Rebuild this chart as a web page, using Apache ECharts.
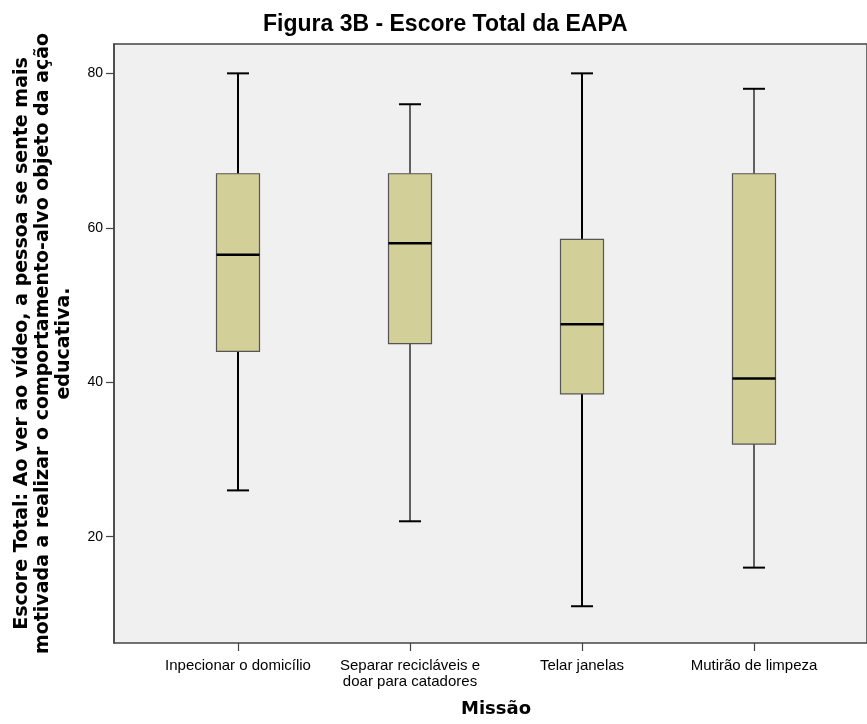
<!DOCTYPE html>
<html>
<head>
<meta charset="utf-8">
<script src="https://cdn.jsdelivr.net/npm/echarts@6/dist/echarts.min.js"></script>
<style>html,body{margin:0;padding:0;background:#fff;}#c{width:867px;height:724px;}</style>
</head>
<body>
<div id="c"></div>
<script>
const categories = ['Inpecionar o domicílio', 'Separar recicláveis e\ndoar para catadores', 'Telar janelas', 'Mutirão de limpeza'];
const whiskerLow = [26, 22, 11, 16];
const q1 = [44, 45, 38.5, 32];
const median = [56.5, 58, 47.5, 40.5];
const q3 = [67, 67, 58.5, 67];
const whiskerHigh = [80, 76, 80, 78];
const yTicks = [20, 40, 60, 80];

const whiskerWidths = [2, 1.2, 2, 1.2];
const yMin = 6.24, yMax = 83.8;

const chart = echarts.init(document.getElementById('c'), null, {renderer: 'canvas'});
const data = categories.map((c, i) => [i, whiskerLow[i], q1[i], median[i], q3[i], whiskerHigh[i]]);

chart.setOption({
  animation: false,
  backgroundColor: '#ffffff',
  title: {
    text: 'Figura 3B - Escore Total da EAPA',
    left: 258,
    top: 8,
    textStyle: {fontFamily: 'Liberation Sans', fontWeight: 'bold', fontSize: 23, color: '#000'}
  },
  grid: [
    {left: 114, top: 44, width: 770, height: 599, show: true, backgroundColor: '#f0f0f0', borderColor: '#444', borderWidth: 1.5},
    {left: 152, top: 44, width: 688, height: 599}
  ],
  xAxis: [
    {gridIndex: 0, type: 'value', min: 0, max: 1, show: false},
    {gridIndex: 1, type: 'category', data: categories, boundaryGap: true,
     axisLine: {show: false},
     axisTick: {show: true, alignWithLabel: true, interval: 0, length: 8, lineStyle: {color: '#444', width: 1.2}},
     axisLabel: {interval: 0, margin: 15, fontFamily: 'Liberation Sans', fontSize: 15, color: '#000', lineHeight: 16},
     name: 'Missão', nameLocation: 'middle', nameGap: 57,
     nameTextStyle: {fontFamily: 'DejaVu Sans', fontWeight: 'bold', fontSize: 18, color: '#000'}
    }
  ],
  yAxis: [
    {gridIndex: 0, type: 'value', min: yMin, max: yMax,
     axisLine: {show: true, lineStyle: {color: '#444', width: 1.5}},
     axisTick: {show: true, length: 8, customValues: yTicks, lineStyle: {color: '#444', width: 1.2}},
     axisLabel: {customValues: yTicks, margin: 11, fontFamily: 'Liberation Sans', fontSize: 14, color: '#000'},
     splitLine: {show: false},
     name: 'Escore Total: Ao ver ao vídeo, a pessoa se sente mais\nmotivada a realizar o comportamento-alvo objeto da ação\neducativa.',
     nameLocation: 'middle', nameGap: 39, nameRotate: 90,
     nameTextStyle: {fontFamily: 'DejaVu Sans', fontWeight: 'bold', fontSize: 19, color: '#000', lineHeight: 21, align: 'center'}
    },
    {gridIndex: 1, type: 'value', min: yMin, max: yMax, show: false}
  ],
  series: [{
    type: 'custom',
    xAxisIndex: 1,
    yAxisIndex: 1,
    data: data,
    renderItem: function (params, api) {
      const i = params.dataIndex;
      const idx = api.value(0);
      const x = api.coord([idx, 0])[0];
      const yl = api.coord([idx, api.value(1)])[1];
      const y1 = api.coord([idx, api.value(2)])[1];
      const ym = api.coord([idx, api.value(3)])[1];
      const y3 = api.coord([idx, api.value(4)])[1];
      const yh = api.coord([idx, api.value(5)])[1];
      const bw = 43, cw = 22;
      const ww = whiskerWidths[i];
      const ws = {stroke: '#000', lineWidth: ww};
      return {
        type: 'group',
        children: [
          {type: 'line', shape: {x1: x, y1: y3, x2: x, y2: yh}, style: ws},
          {type: 'line', shape: {x1: x, y1: y1, x2: x, y2: yl}, style: ws},
          {type: 'line', shape: {x1: x - cw / 2, y1: yh, x2: x + cw / 2, y2: yh}, style: {stroke: '#000', lineWidth: 2}},
          {type: 'line', shape: {x1: x - cw / 2, y1: yl, x2: x + cw / 2, y2: yl}, style: {stroke: '#000', lineWidth: 2}},
          {type: 'rect', shape: {x: x - bw / 2, y: y3, width: bw, height: y1 - y3}, style: {fill: '#d3cf98', stroke: '#555', lineWidth: 1.2}},
          {type: 'line', shape: {x1: x - bw / 2, y1: ym, x2: x + bw / 2, y2: ym}, style: {stroke: '#000', lineWidth: 2.5}}
        ]
      };
    }
  }]
});
</script>
</body>
</html>
